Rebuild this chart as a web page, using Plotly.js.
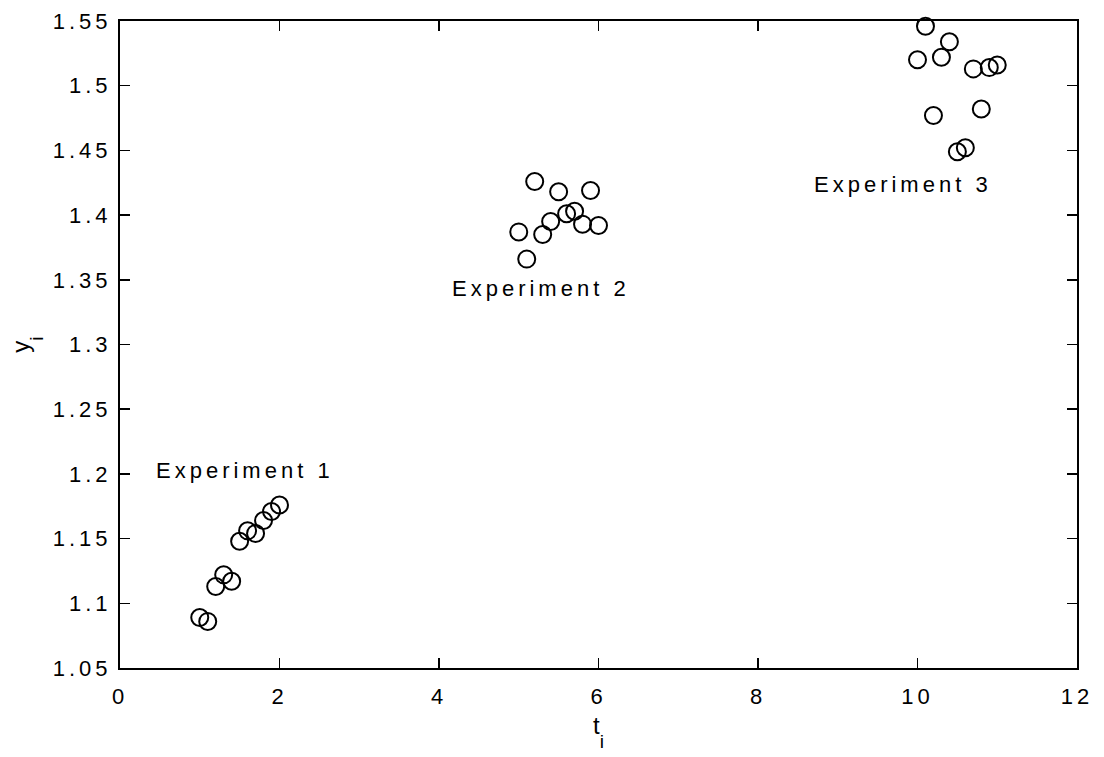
<!DOCTYPE html>
<html>
<head>
<meta charset="utf-8">
<script src="https://cdn.plot.ly/plotly-3.0.1.min.js"></script>
<style>
  html, body { margin: 0; padding: 0; background: #fff; }
  #chart { width: 1104px; height: 757px; }
  .xtick text, .ytick text, .annotation-text { letter-spacing: 4px; }
</style>
</head>
<body>
<div id="chart"></div>
<script>
// Measurements from three experiments
const t1 = [1.0, 1.1, 1.2, 1.3, 1.4, 1.5, 1.6, 1.7, 1.8, 1.9, 2.0];
const y1 = [1.089, 1.086, 1.113, 1.122, 1.117, 1.148, 1.156, 1.154, 1.164, 1.171, 1.176];

const t2 = [5.0, 5.1, 5.2, 5.3, 5.4, 5.5, 5.6, 5.7, 5.8, 5.9, 6.0];
const y2 = [1.387, 1.366, 1.426, 1.385, 1.395, 1.418, 1.401, 1.403, 1.393, 1.419, 1.392];

const t3 = [10.0, 10.1, 10.2, 10.3, 10.4, 10.5, 10.6, 10.7, 10.8, 10.9, 11.0];
const y3 = [1.520, 1.546, 1.477, 1.522, 1.534, 1.449, 1.452, 1.513, 1.482, 1.514, 1.516];

const groupLabels = ["Experiment 1", "Experiment 2", "Experiment 3"];
const labelT = [1.57, 5.28, 9.82];
const labelY = [1.203, 1.343, 1.424];

const xTickVals = [0, 2, 4, 6, 8, 10, 12];
const xTickText = ["0", "2", "4", "6", "8", "10", "12"];
const yTickVals = [1.05, 1.1, 1.15, 1.2, 1.25, 1.3, 1.35, 1.4, 1.45, 1.5, 1.55];
const yTickText = ["1.05", "1.1", "1.15", "1.2", "1.25", "1.3", "1.35", "1.4", "1.45", "1.5", "1.55"];

const marker = {
  symbol: 'circle-open',
  size: 17,
  color: '#000',
  line: { color: '#000', width: 2 }
};

function series(t, y) {
  return { x: t, y: y, type: 'scatter', mode: 'markers', marker: marker,
           cliponaxis: false, hoverinfo: 'x+y' };
}

const data = [series(t1, y1), series(t2, y2), series(t3, y3)];

const family = 'Arial, "Liberation Sans", Helvetica, sans-serif';
const font = { family: family, size: 22, color: '#000' };
const titleFont = { family: family, size: 24, color: '#000' };

const axisCommon = {
  showline: true, linecolor: '#000', linewidth: 2,
  mirror: 'allticks', ticks: 'inside', ticklen: 10, tickwidth: 1.5, tickcolor: '#000',
  showgrid: false, zeroline: false, tickmode: 'array',
  tickfont: font
};

const layout = {
  width: 1104, height: 757,
  margin: { l: 120, r: 27, t: 21, b: 89 },
  paper_bgcolor: '#fff', plot_bgcolor: '#fff',
  showlegend: false,
  font: font,
  xaxis: Object.assign({}, axisCommon, {
    range: [0, 12], tickvals: xTickVals, ticktext: xTickText,
    ticklabelstandoff: 8,
    title: { text: 't<sub>i</sub>', font: titleFont, standoff: 9 }
  }),
  yaxis: Object.assign({}, axisCommon, {
    range: [1.05, 1.55], tickvals: yTickVals, ticktext: yTickText,
    ticklabelstandoff: 2,
    title: { text: 'y<sub>i</sub>', font: titleFont, standoff: 16 }
  }),
  annotations: groupLabels.map((txt, i) => ({
    x: labelT[i], y: labelY[i], xref: 'x', yref: 'y',
    text: txt, showarrow: false, font: font,
    xanchor: 'center', yanchor: 'middle'
  }))
};

// Deeper, larger subscripts on the axis titles
function styleSubscripts() {
  document.querySelectorAll('.xtitle tspan, .ytitle tspan').forEach(ts => {
    if (ts.getAttribute('dy') === '0.3em') {
      ts.setAttribute('dy', '0.7em');
      ts.style.fontSize = '80%';
    }
  });
}

Plotly.newPlot('chart', data, layout, { staticPlot: true, displayModeBar: false })
  .then(styleSubscripts);
</script>
</body>
</html>
